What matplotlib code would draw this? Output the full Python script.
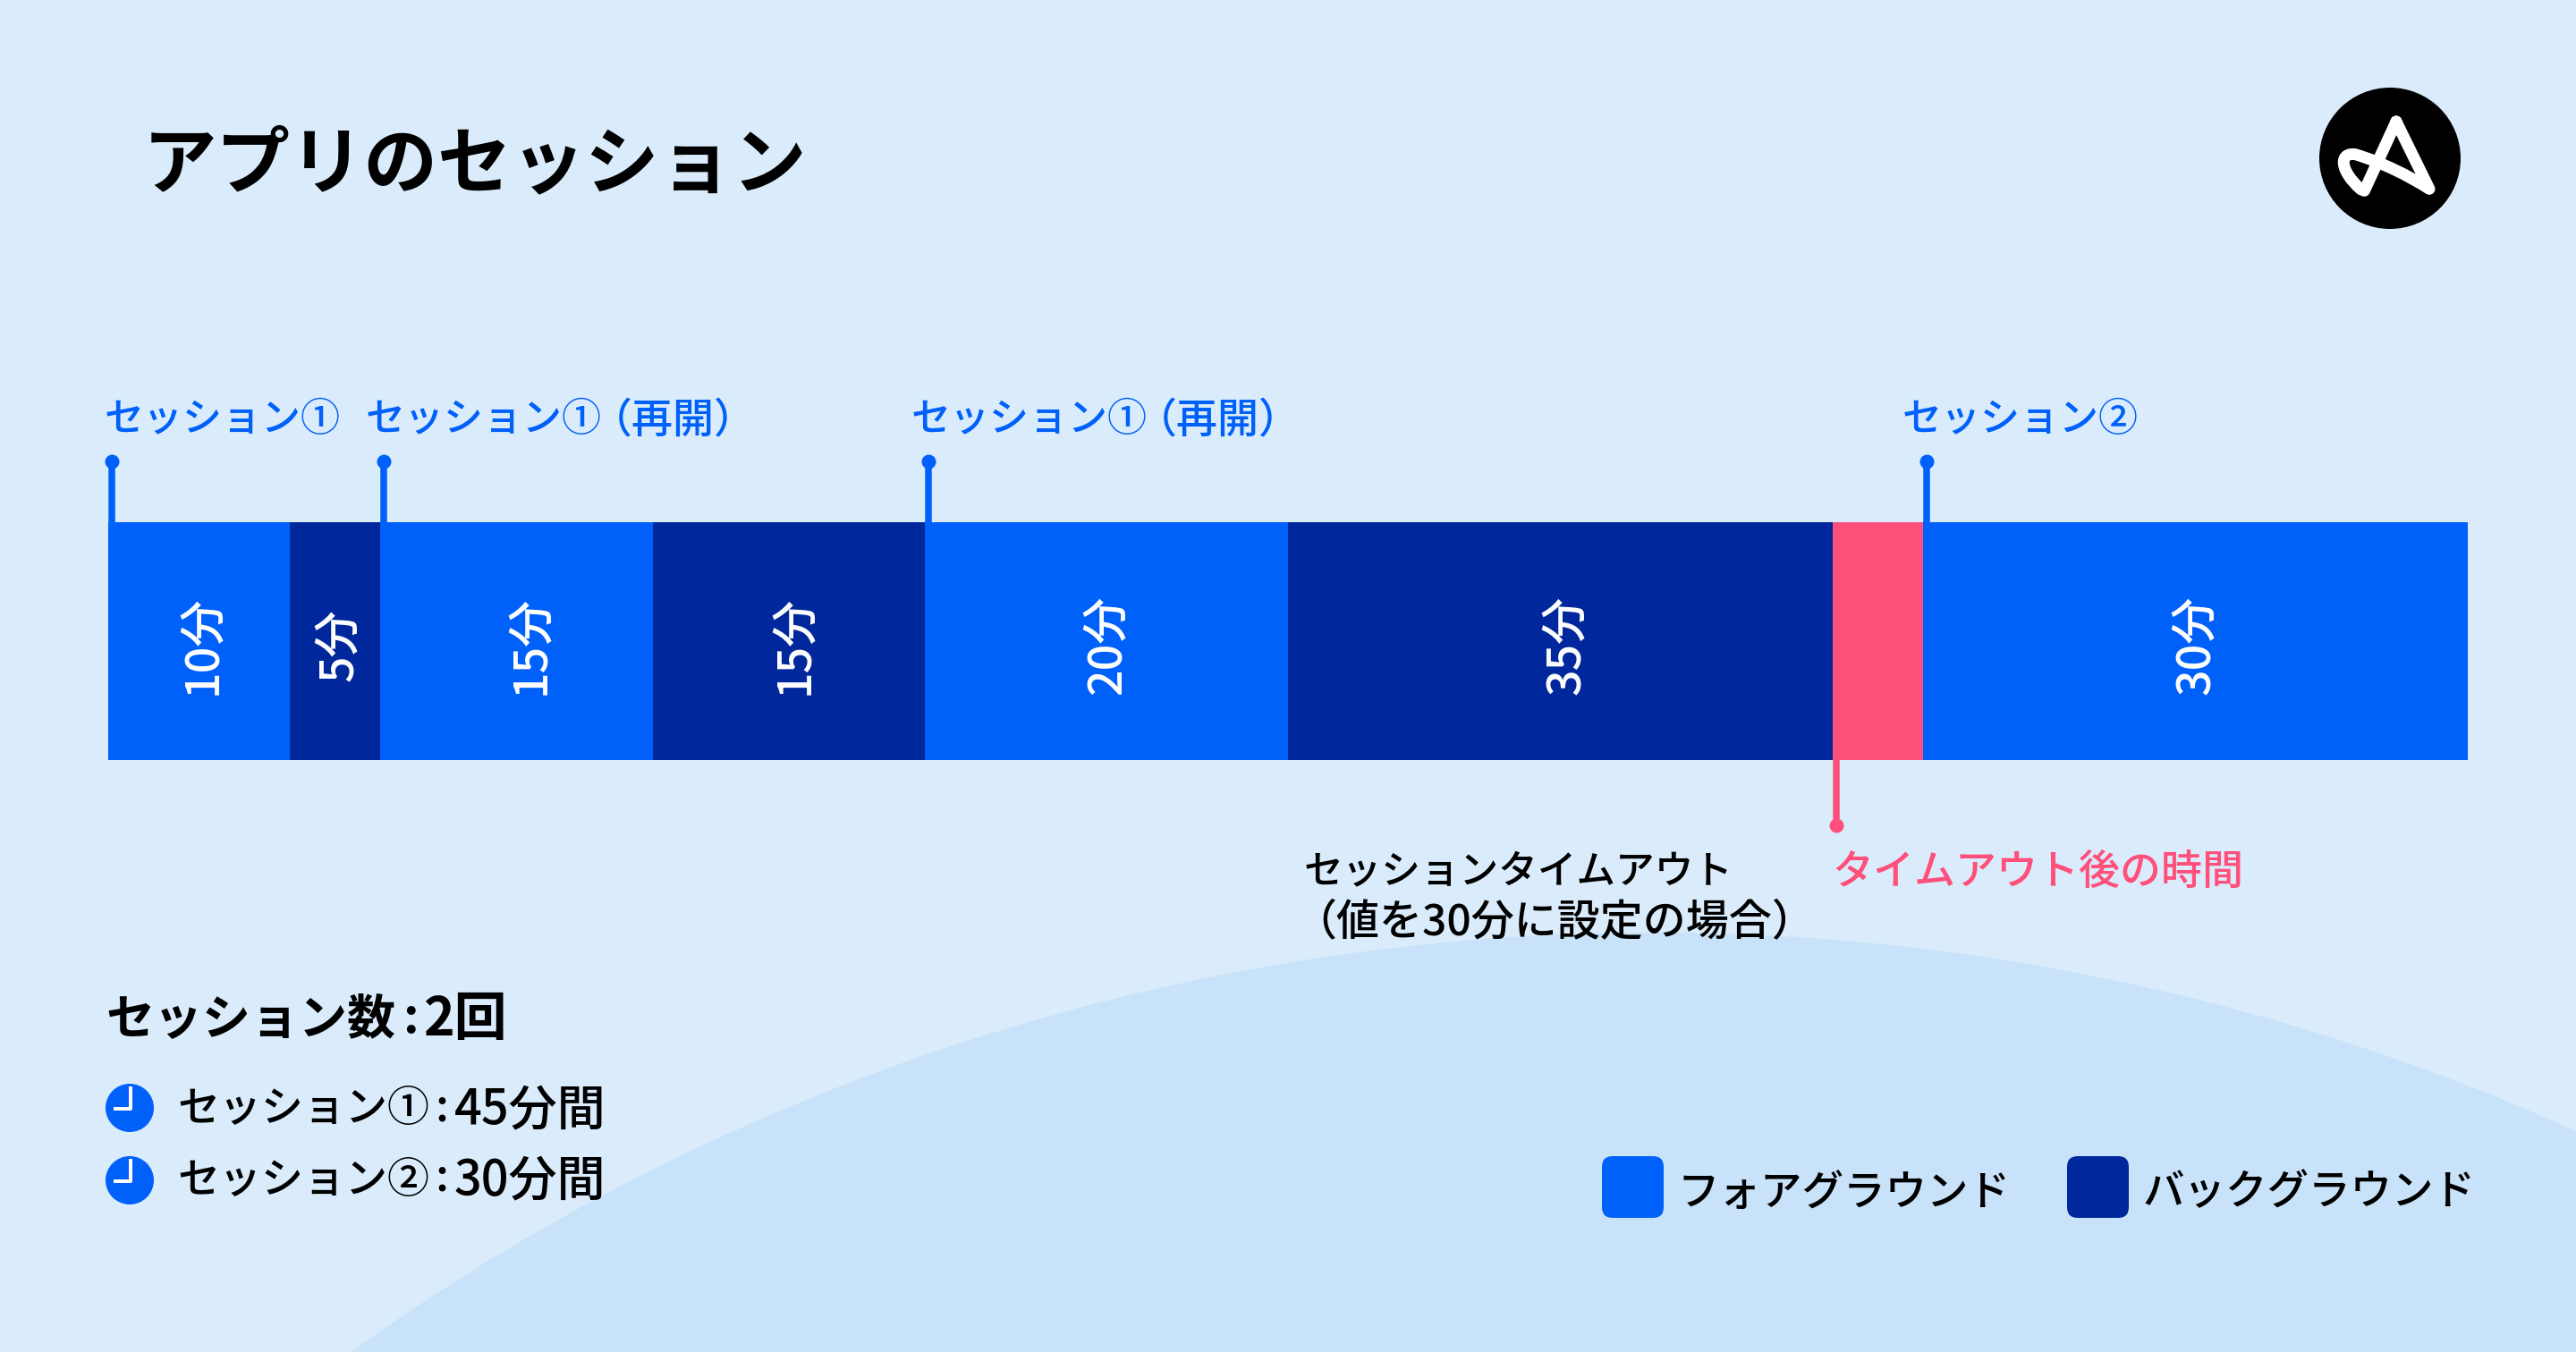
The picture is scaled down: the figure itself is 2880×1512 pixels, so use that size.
import matplotlib
matplotlib.use("Agg")
import matplotlib.pyplot as plt
from matplotlib.patches import Circle, FancyBboxPatch, PathPatch
from matplotlib.path import Path

plt.rcParams['font.family'] = ['Noto Sans CJK JP', 'DejaVu Sans']
plt.rcParams['font.weight'] = 500

# segments of the timeline, in minutes
durations = [10, 5, 15, 15, 20, 30, 5, 30]
states = ['fg', 'bg', 'fg', 'bg', 'fg', 'bg', 'timeout', 'fg']
segment_labels = ['10分', '5分', '15分', '15分', '20分', '35分', '', '30分']

# session markers above the bar
marker_minutes = [0, 15, 45, 100]
marker_labels = ['セッション①', 'セッション①', 'セッション①', 'セッション②']
marker_suffix = ['', '（再開）', '（再開）', '']
timeout_minute = 95

title = 'アプリのセッション'
summary_left = 'セッション数'
summary_right = '2回'
row_names = ['セッション①', 'セッション②']
row_times = ['45分間', '30分間']
legend_labels = ['フォアグラウンド', 'バックグラウンド']

BG = '#DAECFB'
HILL = '#C8E2F9'
BLUE = '#0060FA'
NAVY = '#00289C'
PINK = '#FF4F7B'
colors = {'fg': BLUE, 'bg': NAVY, 'timeout': PINK}

# hand placed offsets, pixels
label_nudge = [4, 4, 16, 6, 0, 7, 0, 0]
marker_text_dx = [-8, -21, -20, -28]

W, H = 2880, 1512
fig = plt.figure(figsize=(14.4, 7.56), dpi=200, facecolor=BG)


def pt(px):
    return px * 72 / 200


# overlay in pixel coordinates for decoration and text
deco = fig.add_axes([0, 0, 1, 1], zorder=0)
deco.set_xlim(0, W)
deco.set_ylim(H, 0)
deco.axis('off')
deco.add_patch(Circle((1850, 3543), 2500, fc=HILL, ec='none'))

# the bar itself
ax = fig.add_axes([121 / W, 1 - 850 / H, (2759 - 121) / W, (850 - 584) / H], zorder=1)
left = 0
for d, s, lab, dx in zip(durations, states, segment_labels, label_nudge):
    ax.barh(0, d, left=left, height=1, color=colors[s], linewidth=0)
    if lab:
        ax.annotate(lab, (left + d / 2, 0), xytext=(pt(dx), pt(-4)), textcoords='offset points',
                    rotation=90, color='white', ha='center', va='center', fontsize=pt(52))
    left += d
ax.set_xlim(0, sum(durations))
ax.set_ylim(-0.5, 0.5)
ax.axis('off')

# stems with a dot, they sit just right of the segment start
top = fig.add_axes([0, 0, 1, 1], zorder=2)
top.set_xlim(0, W)
top.set_ylim(H, 0)
top.axis('off')


def minute_x(m):
    return 121 + m * (2759 - 121) / sum(durations)


for m, lab, suf, dx in zip(marker_minutes, marker_labels, marker_suffix, marker_text_dx):
    x = minute_x(m) + 4
    top.plot([x, x], [584, 516], color=BLUE, lw=pt(7.5), solid_capstyle='butt')
    top.plot(x, 516, 'o', color=BLUE, ms=pt(16), mew=0)
    top.text(x + dx, 470, lab, color=BLUE, fontsize=pt(44), va='center', ha='left')
    if suf:
        top.text(x + dx + 252, 470, suf, color=BLUE, fontsize=pt(46), va='center', ha='left')

x = minute_x(timeout_minute) + 4
top.plot([x, x], [850, 923], color=PINK, lw=pt(7.5), solid_capstyle='butt')
top.plot(x, 923, 'o', color=PINK, ms=pt(16), mew=0)
top.text(x - 4, 975, 'タイムアウト後の時間', color=PINK, fontsize=pt(46), va='center', ha='left')
top.text(1458, 975, 'セッションタイムアウト', color='black', fontsize=pt(43.7), va='center', ha='left')
top.text(1446, 1033, '（値を30分に設定の場合）', color='black', fontsize=pt(48), va='center', ha='left')

top.text(160, 186, title, fontsize=pt(82.5), fontweight='bold', color='black', va='center', ha='left')

top.text(118, 1141, summary_left, fontsize=pt(54), fontweight='bold', color='black', va='center', ha='left')
top.text(459, 1139, ':', fontsize=pt(54), fontweight='bold', color='black', va='center', ha='center')
top.text(474, 1141, summary_right, fontsize=pt(59), fontweight='bold', color='black', va='center', ha='left')

# clock icons and the two rows under the summary
for yc, name, t, dy in zip([1239, 1320], row_names, row_times, [2, 0]):
    top.add_patch(Circle((145, yc), 27, fc=BLUE, ec='none'))
    top.plot([146, 146, 129], [yc - 22, yc + 1, yc + 1], color='white', lw=pt(4), solid_joinstyle='round')
    top.text(198, yc + dy, name, fontsize=pt(47), color='black', va='center', ha='left')
    top.text(494, yc + dy - 2, ':', fontsize=pt(50), color='black', va='center', ha='center')
    top.text(508, yc + dy, t, fontsize=pt(54), color='black', va='center', ha='left')

# legend
for xs, c, lab in zip([1791, 2311], [BLUE, NAVY], legend_labels):
    top.add_patch(FancyBboxPatch((xs + 10, 1303), 49, 49, boxstyle='round,pad=10,rounding_size=12', fc=c, ec='none'))
    top.text(xs + 85, 1334, lab, fontsize=pt(46.5), color='black', va='center', ha='left')

# logo
top.add_patch(Circle((2672, 177), 79, fc='black', ec='none'))
ox, oy = 2500, 50
raw = [(537, 258), (648, 484), (580, 440), (490, 395), (400, 368), (345, 360), (345, 420), (418, 485), (430, 490), (537, 258)]
verts = [(ox + a / 3, oy + b / 3) for a, b in raw]
codes = [Path.MOVETO, Path.LINETO, Path.CURVE4, Path.CURVE4, Path.CURVE4, Path.CURVE4, Path.CURVE4, Path.CURVE4, Path.LINETO, Path.LINETO]
top.add_patch(PathPatch(Path(verts, codes), fc='none', ec='white', lw=pt(13), joinstyle='round', capstyle='round'))

fig.savefig('out.png', dpi=200, facecolor=BG)
